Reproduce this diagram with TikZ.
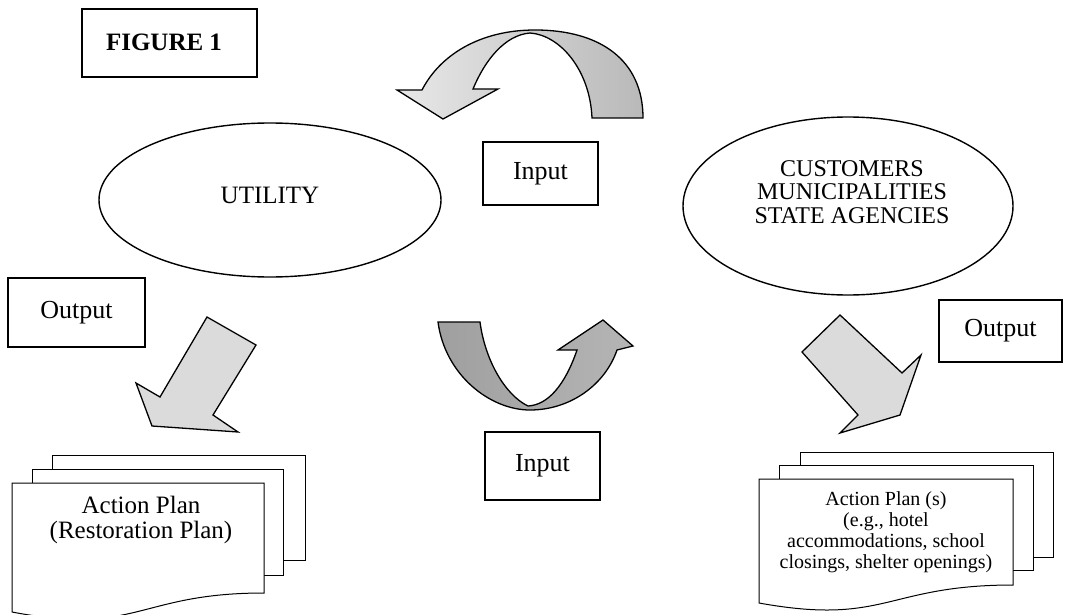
\documentclass[tikz,border=0pt]{standalone}
\usepackage{fontspec}
\setmainfont{Liberation Serif}
\usetikzlibrary{shapes.geometric}
\begin{document}
\begin{tikzpicture}[x=1pt,y=-1pt,line join=miter,
  box/.style={draw,line width=1.2pt,fill=white,inner sep=0pt},
  lbl/.style={font=\fontsize{26}{26}\selectfont},
  oval/.style={draw,ellipse,line width=1.4pt,inner sep=0pt},
  blockarrow/.style={draw,line width=1.3pt},
  pagebox/.style={draw,line width=1pt,fill=white}]
\useasboundingbox (0,0) rectangle (1067,615);

% title
\node[box,minimum width=175pt,minimum height=68pt] (fig) at (169.5,43) {};
\node[font=\bfseries\fontsize{25}{25}\selectfont] (figtxt) at (164,42) {FIGURE 1};

% ellipses
\node[oval,minimum width=342pt,minimum height=154pt] (utilell) at (270,200) {};
\node[font=\fontsize{25}{25}\selectfont] (util) at (270,195) {UTILITY};
\node[oval,minimum width=330pt,minimum height=178pt] (custell) at (848,206) {};
\node[align=center,font=\fontsize{24}{23.5}\selectfont] (cust) at (852,192) {CUSTOMERS\\MUNICIPALITIES\\STATE AGENCIES};

% top curved arrow
\path[blockarrow,left color=gray!18,right color=gray!55]
  (643,118) .. controls (643,60) and (600,30) .. (535,30)
  .. controls (480,30) and (440,55) .. (422,90)
  -- (397,90) -- (443,119) -- (498,89) -- (473,89)
  .. controls (485,60) and (505,35) .. (530,33)
  .. controls (560,35) and (590,70) .. (592,118) -- cycle;

% bottom curved arrow
\path[blockarrow,left color=gray!75,right color=gray!58]
  (438,322) .. controls (445,375) and (490,410) .. (530,410)
  .. controls (570,410) and (605,385) .. (617,350)
  -- (633,346) -- (603,320) -- (558,350) -- (577,350)
  .. controls (565,385) and (548,405) .. (528,406)
  .. controls (505,395) and (485,360) .. (480,322) -- cycle;

% input / output boxes
\node[box,lbl,minimum width=115pt,minimum height=63pt] (intop) at (540.5,173.5) {Input};
\node[box,lbl,minimum width=115pt,minimum height=68pt] (inbot) at (542.5,466) {Input};
\node[box,lbl,minimum width=137pt,minimum height=69pt] (outl) at (76.5,312.5) {Output};
\node[box,lbl,minimum width=123pt,minimum height=62pt] (outr) at (1000.5,331) {Output};

% diagonal arrows
\path[blockarrow,fill=gray!28]
  (207,317) -- (256,345) -- (213,415) -- (238,432) -- (152,426) -- (136,383) -- (160,397) -- cycle;
\path[blockarrow,fill=gray!28]
  (840,315) -- (902,373) -- (921,355) -- (900,415) -- (840,433) -- (858,415) -- (802,352) -- cycle;

% left documents
\draw[pagebox] (52,455) rectangle (305,560);
\draw[pagebox] (32,469) rectangle (283,575);
\draw[pagebox] (12,483) -- (264,483) -- (264,593)
  .. controls (138,593) and (138,636) .. (12,612) -- cycle;
\node[align=center,font=\fontsize{25}{25}\selectfont] (lplan) at (141,520) {Action Plan\\(Restoration Plan)};

% right documents
\draw[pagebox] (800,452) rectangle (1053,557);
\draw[pagebox] (779,465) rectangle (1033,570);
\draw[pagebox] (759,479) -- (1013,479) -- (1013,585)
  .. controls (886,585) and (886,626) .. (759,603) -- cycle;
\node[align=center,font=\fontsize{20}{21}\selectfont] (rplan) at (886,532) {Action Plan (s)\\(e.g., hotel\\accommodations, school\\closings, shelter openings)};
\end{tikzpicture}
\end{document}
